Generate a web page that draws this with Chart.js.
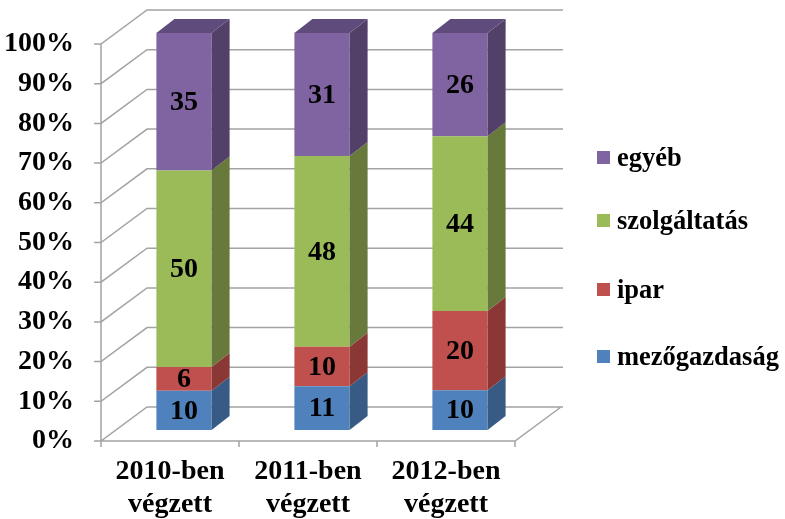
<!DOCTYPE html>
<html>
<head>
<meta charset="utf-8">
<script src="https://cdn.jsdelivr.net/npm/chart.js@4"></script>
<style>
  body{margin:0;background:#fff;}
  #wrap{position:relative;width:785px;height:519px;}
  #legend{position:absolute;left:597px;top:0;font:bold 26.5px "Liberation Serif","Times New Roman",serif;color:#000;}
  #legend .item{position:absolute;left:0;display:flex;align-items:center;white-space:nowrap;}
  #legend .sw{width:13px;height:13px;margin-right:7px;}
</style>
</head>
<body>
<div id="wrap">
  <canvas id="c" width="785" height="519"></canvas>
  <div id="legend"></div>
</div>
<script>
// values (shares in %, per year)
const categories = [['2010-ben','végzett'], ['2011-ben','végzett'], ['2012-ben','végzett']];
const seriesNames = ['mezőgazdaság', 'ipar', 'szolgáltatás', 'egyéb'];
const mezogazdasag = [10, 11, 10];
const ipar = [6, 10, 20];
const szolgaltatas = [50, 48, 44];
const egyeb = [35, 31, 26];
const yTicks = [0, 10, 20, 30, 40, 50, 60, 70, 80, 90, 100];

const frontColors = ['#4f81bd', '#c0504d', '#9bbb59', '#8064a2'];
const sideColors = ['#385b86', '#8a3735', '#67793b', '#524069'];
const topColor = '#5f4b7c';
const FONT = '"Liberation Serif","Times New Roman",serif';

const raw = [mezogazdasag, ipar, szolgaltatas, egyeb];
const totals = categories.map((c, i) => raw.reduce((s, arr) => s + arr[i], 0));

// depth of walls and bars
const WALL = {dx: 46, dy: -34};
const BAR = {dx: 14, dy: -11};
const SIDE = {dx: 18, dy: -14};

function formatLegend(){
  const wrap = document.getElementById('legend');
  const tops = [142, 205, 274, 341];
  for (let k = seriesNames.length - 1, r = 0; k >= 0; k--, r++) {
    const d = document.createElement('div');
    d.className = 'item';
    d.style.top = tops[r] + 'px';
    const sw = document.createElement('span');
    sw.className = 'sw';
    sw.style.background = frontColors[k];
    d.appendChild(sw);
    const t = document.createElement('span');
    t.textContent = seriesNames[k];
    d.appendChild(t);
    wrap.appendChild(d);
  }
}

const box3d = {
  id: 'box3d',
  beforeDatasetsDraw(chart){
    const ctx = chart.ctx, y = chart.scales.y;
    const L = chart.chartArea.left, R = chart.chartArea.right, B = chart.chartArea.bottom;
    ctx.save();
    ctx.strokeStyle = '#a3a3a3';
    ctx.lineWidth = 1.5;
    ctx.beginPath();
    yTicks.forEach(v => {
      const py = y.getPixelForValue(v);
      ctx.moveTo(L - 7, py); ctx.lineTo(L, py);
      ctx.lineTo(L + WALL.dx, py + WALL.dy);
      ctx.lineTo(R + WALL.dx + 2, py + WALL.dy);
    });
    // front axis and floor
    ctx.moveTo(L, y.getPixelForValue(100)); ctx.lineTo(L, B);
    ctx.lineTo(R, B); ctx.lineTo(R + WALL.dx, B + WALL.dy);
    // category ticks
    const n = categories.length;
    for (let i = 0; i <= n; i++) {
      const px = L + (R - L) * i / n;
      ctx.moveTo(px, B); ctx.lineTo(px, B + 6);
    }
    ctx.stroke();
    ctx.restore();
    ctx.save();
    ctx.translate(BAR.dx, BAR.dy);
  },
  afterDatasetsDraw(chart){
    const ctx = chart.ctx;
    ctx.restore();
    ctx.save();
    const last = chart.data.datasets.length - 1;
    chart.data.datasets.forEach((ds, di) => {
      chart.getDatasetMeta(di).data.forEach(bar => {
        const top = Math.min(bar.y, bar.base) + BAR.dy;
        const bot = Math.max(bar.y, bar.base) + BAR.dy;
        const left = bar.x - bar.width / 2 + BAR.dx;
        const right = bar.x + bar.width / 2 + BAR.dx;
        ctx.fillStyle = sideColors[di];
        ctx.beginPath();
        ctx.moveTo(right, top); ctx.lineTo(right + SIDE.dx, top + SIDE.dy);
        ctx.lineTo(right + SIDE.dx, bot + SIDE.dy); ctx.lineTo(right, bot);
        ctx.closePath(); ctx.fill();
        if (di === last) {
          ctx.fillStyle = topColor;
          ctx.beginPath();
          ctx.moveTo(left, top); ctx.lineTo(left + SIDE.dx, top + SIDE.dy);
          ctx.lineTo(right + SIDE.dx, top + SIDE.dy); ctx.lineTo(right, top);
          ctx.closePath(); ctx.fill();
        }
      });
    });
    // value labels
    ctx.fillStyle = '#000';
    ctx.font = 'bold 28px ' + FONT;
    ctx.textAlign = 'center';
    ctx.textBaseline = 'middle';
    chart.data.datasets.forEach((ds, di) => {
      chart.getDatasetMeta(di).data.forEach((bar, i) => {
        ctx.fillText(String(raw[di][i]), bar.x + BAR.dx, (bar.y + bar.base) / 2 + BAR.dy + 1);
      });
    });
    ctx.restore();
  }
};

formatLegend();

new Chart(document.getElementById('c'), {
  type: 'bar',
  data: {
    labels: categories,
    datasets: seriesNames.map((name, k) => ({
      label: name,
      data: raw[k].map((v, i) => v / totals[i] * 100),
      backgroundColor: frontColors[k],
      borderWidth: 0,
      categoryPercentage: 1,
      barPercentage: 0.4
    }))
  },
  options: {
    responsive: false,
    animation: false,
    layout: {padding: {top: 44, right: 270, left: 0, bottom: 0}},
    plugins: {legend: {display: false}, tooltip: {enabled: false}},
    scales: {
      x: {
        stacked: true,
        grid: {display: false},
        border: {display: false},
        afterFit: s => { s.height = 78; },
        ticks: {color: '#000', padding: 6, font: {family: FONT, size: 28, weight: 'bold', lineHeight: 1.18}}
      },
      y: {
        stacked: true,
        min: 0, max: 100,
        grid: {display: false},
        border: {display: false},
        afterFit: s => { s.width = 101; },
        ticks: {stepSize: 10, color: '#000', padding: 19, callback: v => v + '%',
                font: {family: FONT, size: 28, weight: 'bold'}}
      }
    }
  },
  plugins: [box3d]
});
</script>
</body>
</html>
